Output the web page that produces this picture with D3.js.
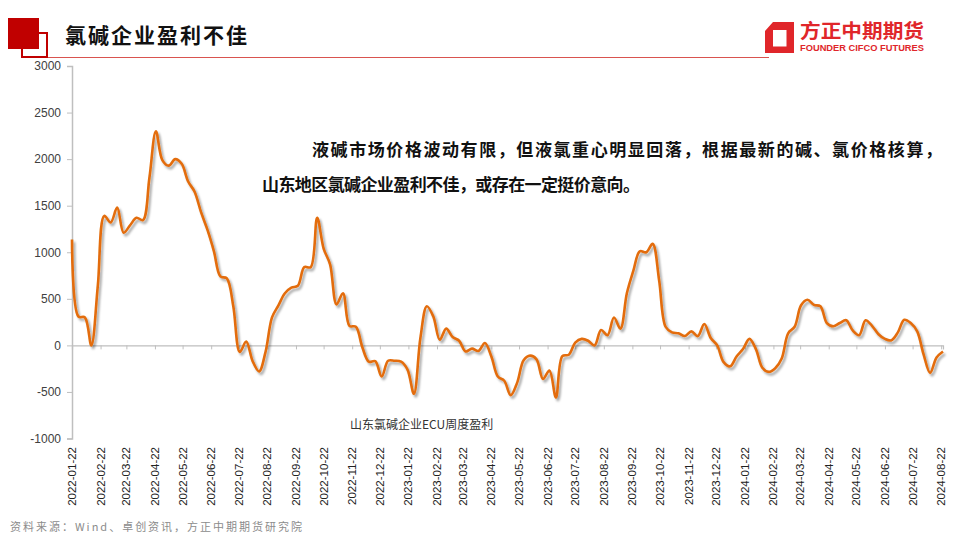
<!DOCTYPE html>
<html>
<head>
<meta charset="utf-8">
<script src="https://cdn.jsdelivr.net/npm/d3@7"></script>
<style>
  html, body { margin: 0; padding: 0; background: #fff; }
  svg { display: block; }
</style>
</head>
<body>
<svg id="chart" width="960" height="540"></svg>
<script>
// ---------------- DATA ----------------
const title = "氯碱企业盈利不佳";
const seriesName = "山东氯碱企业ECU周度盈利";
const startDate = "2022-01-22";          // first weekly observation
const endDate = "2024-08-24";            // last weekly observation
// weekly ECU profit (yuan/ton), read from the picture
const values = [
  1136, 310, 300, 0, 640, 1390, 1320, 1480, 1210, 1290,
  1370, 1345, 1800, 2300, 1990, 1930, 2000, 1950, 1760, 1650,
  1430, 1240, 1010, 740, 720, 420, -70, 40, -170, -280,
  -70, 300, 430, 560, 620, 640, 840, 840, 1370, 1040,
  870, 440, 560, 210, 200, -20, -175, -170, -335, -165,
  -165, -175, -260, -520, 80, 420, 310, 60, 180, 90,
  50, -65, -35, -60, 25, -120, -335, -380, -535, -400,
  -160, -110, -150, -360, -270, -560, -115, -100, 30, 70,
  50, 0, 165, 110, 300, 180, 560, 800, 1010, 1000,
  1090, 700, 200, 140, 130, 100, 150, 100, 230, 80,
  0, -180, -225, -120, -40, 70, -40, -240, -285, -245,
  -140, 130, 200, 430, 490, 435, 420, 240, 205, 240,
  270, 160, 110, 270, 210, 120, 70, 55, 140, 275,
  240, 150, -100, -295, -130, -65
];
const yTicks = [-1000, -500, 0, 500, 1000, 1500, 2000, 2500, 3000];
const xTickLabels = [
  "2022-01-22","2022-02-22","2022-03-22","2022-04-22","2022-05-22","2022-06-22",
  "2022-07-22","2022-08-22","2022-09-22","2022-10-22","2022-11-22","2022-12-22",
  "2023-01-22","2023-02-22","2023-03-22","2023-04-22","2023-05-22","2023-06-22",
  "2023-07-22","2023-08-22","2023-09-22","2023-10-22","2023-11-22","2023-12-22",
  "2024-01-22","2024-02-22","2024-03-22","2024-04-22","2024-05-22","2024-06-22",
  "2024-07-22","2024-08-22"
];
const noteLines = [
  "液碱市场价格波动有限，但液氯重心明显回落，根据最新的碱、氯价格核算，",
  "山东地区氯碱企业盈利不佳，或存在一定挺价意向。"
];
const source = "资料来源：Wind、卓创资讯，方正中期期货研究院";

// ---------------- SETUP ----------------
const parse = d3.timeParse("%Y-%m-%d");
const t0 = parse(startDate);
const dates = values.map((_, i) => d3.timeDay.offset(t0, 7 * i));
const data = values.map((v, i) => ({ date: dates[i], value: v }));

const svg = d3.select("#chart");
const red = "#C00000";

// ---------------- HEADER ----------------
svg.append("rect").attr("x", 22).attr("y", 33).attr("width", 25).attr("height", 24)
  .attr("fill", "none").attr("stroke", red).attr("stroke-width", 2);
svg.append("rect").attr("x", 8).attr("y", 18).attr("width", 31).attr("height", 31)
  .attr("fill", red);
svg.append("line").attr("x1", 48).attr("x2", 769).attr("y1", 57.5).attr("y2", 57.5)
  .attr("stroke", "#D9534F").attr("stroke-width", 1);
svg.append("text").attr("x", 65).attr("y", 43)
  .attr("font-family", "'Noto Sans CJK SC', sans-serif")
  .attr("font-size", 21).attr("font-weight", 700).attr("fill", "#111")
  .attr("letter-spacing", 2)
  .text(title);

// logo
const logo = svg.append("g");
logo.append("path")
  .attr("d", "M773,22 L794,22 L794,53 L765,53 L765,31 Z M773,30 L773,46.5 L786.5,46.5 L786.5,30 Z")
  .attr("fill", "#E0262A").attr("fill-rule", "evenodd");
logo.append("text").attr("x", 800).attr("y", 38)
  .attr("font-family", "'Noto Sans CJK SC', sans-serif")
  .attr("font-size", 19).attr("font-weight", 700).attr("fill", "#E0262A")
  .attr("textLength", 124).attr("lengthAdjust", "spacingAndGlyphs")
  .text("方正中期期货");
logo.append("text").attr("x", 800).attr("y", 50.5)
  .attr("font-family", "'Liberation Sans', Arial, sans-serif")
  .attr("font-size", 9).attr("font-weight", 700).attr("fill", "#E0262A")
  .attr("textLength", 124).attr("lengthAdjust", "spacingAndGlyphs")
  .text("FOUNDER CIFCO FUTURES");

// ---------------- SCALES ----------------
const x = d3.scaleTime().domain([t0, parse(endDate)]).range([72, 943]);
const y = d3.scaleLinear().domain([-1000, 3000]).range([438.5, 66]);
const axisColor = "#BFBFBF";

// Y axis
const yAxis = svg.append("g").attr("transform", "translate(72,0)")
  .call(d3.axisLeft(y).tickValues(yTicks).tickSize(5).tickPadding(6).tickFormat(d => String(d)));
yAxis.select(".domain").attr("stroke", axisColor).attr("stroke-width", 1.5);
yAxis.selectAll(".tick line").attr("stroke", axisColor);
yAxis.selectAll(".tick text").attr("font-family", "'Liberation Sans', Arial, sans-serif")
  .attr("font-size", 12).attr("fill", "#404040");

// X axis at zero
const xTickDates = xTickLabels.map(parse);
const xAxis = svg.append("g").attr("transform", `translate(0,${y(0)})`)
  .call(d3.axisBottom(x).tickValues(xTickDates).tickSize(4).tickFormat(() => ""));
xAxis.select(".domain").attr("stroke", axisColor).attr("stroke-width", 1.2);
xAxis.selectAll(".tick line").attr("stroke", axisColor);

// X labels at bottom (low position)
svg.append("g").selectAll("text").data(xTickDates).join("text")
  .attr("transform", d => `translate(${x(d) + 4},447) rotate(-90)`)
  .attr("text-anchor", "end")
  .attr("font-family", "'Liberation Sans', Arial, sans-serif")
  .attr("font-size", 11.5).attr("fill", "#222")
  .text((d, i) => xTickLabels[i]);

// ---------------- LINE ----------------
const defs = svg.append("defs");
const f = defs.append("filter").attr("id", "shadow").attr("x", "-5%").attr("y", "-5%")
  .attr("width", "110%").attr("height", "110%");
f.append("feDropShadow").attr("dx", 2).attr("dy", 2.5).attr("stdDeviation", 1.3)
  .attr("flood-color", "#000").attr("flood-opacity", 0.35);

const line = d3.line().x(d => x(d.date)).y(d => y(d.value)).curve(d3.curveCatmullRom.alpha(0.5));
svg.append("path").datum(data).attr("d", line)
  .attr("fill", "none").attr("stroke", "#E36C0A").attr("stroke-width", 2.6)
  .attr("stroke-linejoin", "round").attr("filter", "url(#shadow)");

// ---------------- TEXTS ----------------
svg.append("text").attr("x", 350).attr("y", 429)
  .attr("font-family", "'Noto Sans CJK SC', sans-serif")
  .attr("font-size", 12).attr("fill", "#333")
  .text(seriesName);

svg.append("text").attr("x", 312).attr("y", 156)
  .attr("font-family", "'Noto Sans CJK SC', sans-serif")
  .attr("font-size", 17).attr("font-weight", 700).attr("fill", "#111")
  .attr("textLength", 630).attr("lengthAdjust", "spacing")
  .text(noteLines[0]);
svg.append("text").attr("x", 262).attr("y", 191)
  .attr("font-family", "'Noto Sans CJK SC', sans-serif")
  .attr("font-size", 17).attr("font-weight", 700).attr("fill", "#111")
  .attr("textLength", 378).attr("lengthAdjust", "spacing")
  .text(noteLines[1]);

svg.append("text").attr("x", 10).attr("y", 531)
  .attr("font-family", "'Noto Sans CJK SC', sans-serif")
  .attr("font-size", 11).attr("fill", "#8C8C8C")
  .attr("textLength", 292).attr("lengthAdjust", "spacing")
  .text(source);
</script>
</body>
</html>
